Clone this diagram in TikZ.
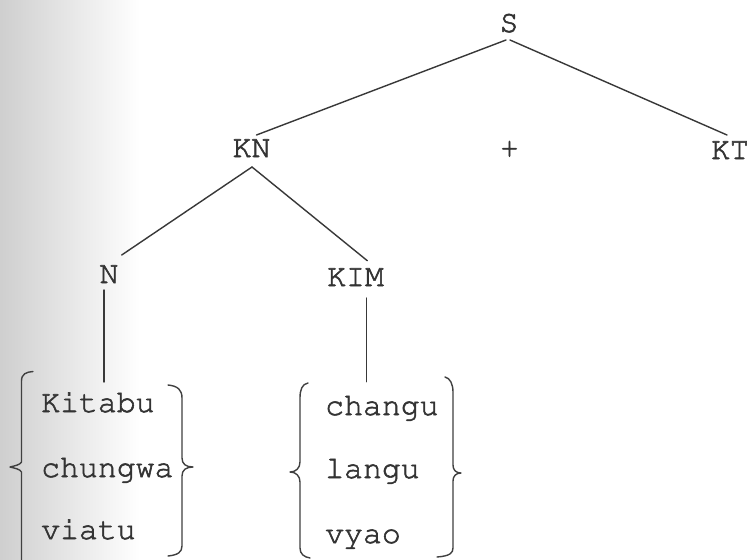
\documentclass[tikz,border=0pt]{standalone}
\usepackage[T1]{fontenc}
\usepackage{courier}
\newcommand{\thicktext}{\special{pdf:literal direct 2 Tr 0.55 w}}
\begin{document}
\begin{tikzpicture}[x=1pt,y=-1pt,
  lbl/.style={inner sep=0pt, text=black!80, font=\fontfamily{pcr}\fontsize{31.5}{31.5}\selectfont\thicktext},
  word/.style={lbl, anchor=base west},
  edge/.style={draw=black!78, line width=1.4pt, line cap=round},
  brace/.style={draw=black!75, line width=1.4pt, line cap=round, line join=round}]
\useasboundingbox (0,0) rectangle (753,560);
\fill[white] (0,0) rectangle (753,560);
\shade[left color=black!19, right color=white] (0,0) rectangle (140,560);

% tree labels
\node[lbl, anchor=base] (S)   at (509,32)  {S};
\node[lbl, anchor=base] (KN)  at (251.5,157) {KN};
\node[lbl, anchor=center] (plus) at (509.5,150) {+};
\node[lbl, anchor=base] (KT)  at (730,159) {KT};
\node[lbl, anchor=base] (N)   at (109,283) {N};
\node[lbl, anchor=base] (KIM) at (355.5,286) {KIM};

% words
\node[word] (w1) at (41,412) {Kitabu};
\node[word] (w2) at (41,477) {chungwa};
\node[word] (w3) at (41,539) {viatu};
\node[word] (w4) at (325,415) {changu};
\node[word] (w5) at (325,478) {langu};
\node[word] (w6) at (325,543) {vyao};

% connector end points
\coordinate (S-l) at (506,40);
\coordinate (S-r) at (510,40);
\coordinate (KN-t) at (256.5,135);
\coordinate (KT-t) at (727,135);
\coordinate (KN-b) at (252,167);
\coordinate (N-t) at (121.7,255);
\coordinate (KIM-t) at (367.3,260.7);
\coordinate (N-b) at (104,290);
\coordinate (G1-t) at (104,382);
\coordinate (KIM-b) at (366.7,298);
\coordinate (G2-t) at (366.7,381.7);

\draw[edge] (S-l) -- (KN-t);
\draw[edge] (S-r) -- (KT-t);
\draw[edge] (KN-b) -- (N-t);
\draw[edge] (KN-b) -- (KIM-t);
\draw[edge] (N-b) -- (G1-t);
\draw[edge] (KIM-b) -- (G2-t);

% left group brackets
\draw[brace] (33,371.5) .. controls (26,372) and (21.5,374) .. (21.5,381) -- (21.5,462)
  .. controls (20,465) and (14,466) .. (10,467) .. controls (14,468) and (20,469) .. (21.5,472) -- (21.5,562);
\draw[brace] (168,385) .. controls (178,386) and (182,390) .. (182,398) -- (182,458)
  .. controls (182,464) and (186,467) .. (193,467) .. controls (186,467) and (182,470) .. (182,476)
  -- (182,546) .. controls (182,552) and (178,555) .. (168,556);
% right group brackets
\draw[brace] (308,383) .. controls (302,384) and (300,390) .. (300,398) -- (300,462)
  .. controls (300,468) and (296,472) .. (290,472) .. controls (296,472) and (300,476) .. (300,482)
  -- (300,548) .. controls (300,554) and (304,557) .. (310,558);
\draw[brace] (445,377) .. controls (450,378) and (453,384) .. (453,392) -- (453,465)
  .. controls (453,470) and (456,473) .. (461,473) .. controls (456,473) and (453,476) .. (453,481)
  -- (453,548) .. controls (453,553) and (450,556) .. (437,557);
\end{tikzpicture}
\end{document}
